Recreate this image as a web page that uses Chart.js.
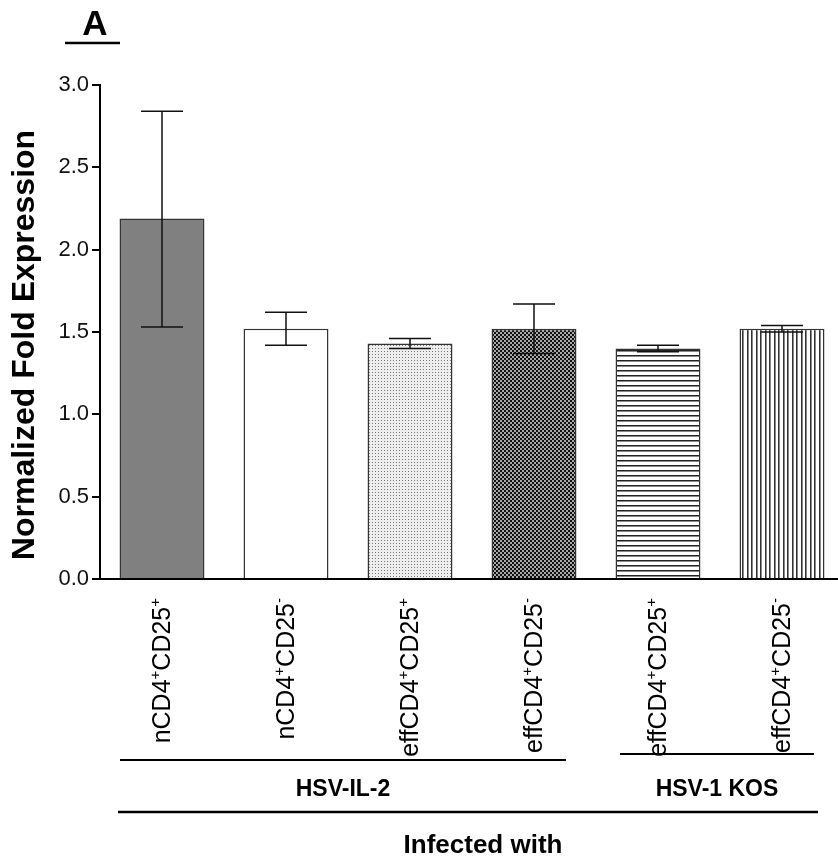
<!DOCTYPE html>
<html>
<head>
<meta charset="utf-8">
<script src="https://cdn.jsdelivr.net/npm/chart.js@4.4.1/dist/chart.umd.min.js"></script>
<style>
  html, body { margin: 0; padding: 0; background: #fff; overflow: hidden; }
  #wrap { width: 844px; height: 862px; }
</style>
</head>
<body>
<div id="wrap"><canvas id="foldChart"></canvas></div>
<script>
// values
const cellTypes = ['nCD4', 'nCD4', 'effCD4', 'effCD4', 'effCD4', 'effCD4'];
const cd4Marks = ['+', '+', '+', '+', '+', '+'];
const cd25Marks = ['+', '-', '+', '-', '+', '-'];
const foldMeans = [2.19, 1.52, 1.43, 1.52, 1.40, 1.52];
const errHigh = [2.84, 1.62, 1.46, 1.67, 1.42, 1.54];
const errLow = [1.53, 1.42, 1.40, 1.37, 1.38, 1.50];
const yTicks = [0, 0.5, 1.0, 1.5, 2.0, 2.5, 3.0];
const virusGroups = ['HSV-IL-2', 'HSV-1 KOS'];
const groupFirst = [0, 4];
const groupLast = [3, 5];
const categories = cellTypes.map((c, i) => c + cd4Marks[i] + 'CD25' + cd25Marks[i]);

const FONT = '"Liberation Sans", Arial, Helvetica, sans-serif';

// small tiles for the hatched fills
function makePattern(w, h, paint) {
    const c = document.createElement('canvas');
    c.width = w; c.height = h;
    const g = c.getContext('2d');
    paint(g);
    return g.createPattern(c, 'repeat');
}

const stipple = makePattern(3, 3, g => {
    g.fillStyle = '#eeeeee'; g.fillRect(0, 0, 3, 3);
    g.fillStyle = '#777777'; g.fillRect(0, 0, 1, 1);
});
const checker = makePattern(4, 4, g => {
    g.fillStyle = '#111111'; g.fillRect(0, 0, 4, 4);
    g.fillStyle = '#a8a8a8'; g.fillRect(0, 0, 2, 2); g.fillRect(2, 2, 2, 2);
});
const hLines = makePattern(1, 5, g => {
    g.fillStyle = '#ffffff'; g.fillRect(0, 0, 1, 5);
    g.fillStyle = '#222222'; g.fillRect(0, 0, 1, 1);
    g.fillStyle = '#8a8a8a'; g.fillRect(0, 1, 1, 1);
});
const vLines = makePattern(9, 1, g => {
    g.fillStyle = '#ffffff'; g.fillRect(0, 0, 9, 1);
    g.fillStyle = '#333333'; g.fillRect(0, 0, 1, 1); g.fillRect(4, 0, 1, 1);
    g.fillStyle = '#888888'; g.fillRect(1, 0, 1, 1); g.fillRect(5, 0, 1, 1);
});
const barFills = ['#808080', '#ffffff', stipple, checker, hLines, vLines];

// error bars (mean with range)
const errorBars = {
    id: 'errorBars',
    afterDatasetsDraw(chart) {
        const { ctx, scales: { y } } = chart;
        const bars = chart.getDatasetMeta(0).data;
        ctx.save();
        ctx.strokeStyle = '#111';
        ctx.lineWidth = 1.5;
        bars.forEach((bar, i) => {
            const top = y.getPixelForValue(errHigh[i]);
            const bot = y.getPixelForValue(errLow[i]);
            ctx.beginPath();
            ctx.moveTo(bar.x, top); ctx.lineTo(bar.x, bot);
            ctx.moveTo(bar.x - 21, top); ctx.lineTo(bar.x + 21, top);
            ctx.moveTo(bar.x - 21, bot); ctx.lineTo(bar.x + 21, bot);
            ctx.stroke();
        });
        ctx.restore();
    }
};

// rotated labels with superscripts, grouping lines, titles
const annotations = {
    id: 'annotations',
    afterDraw(chart) {
        const { ctx, scales: { x } } = chart;
        ctx.save();
        ctx.fillStyle = '#000';
        ctx.strokeStyle = '#000';

        // panel letter
        ctx.font = 'bold 35px ' + FONT;
        ctx.textAlign = 'center';
        ctx.textBaseline = 'alphabetic';
        ctx.fillText('A', 95, 35);
        ctx.lineWidth = 2.5;
        ctx.beginPath(); ctx.moveTo(65, 43); ctx.lineTo(120, 43); ctx.stroke();

        // y title
        ctx.save();
        ctx.translate(34, 345);
        ctx.rotate(-Math.PI / 2);
        ctx.font = 'bold 32px ' + FONT;
        ctx.textAlign = 'center';
        ctx.fillText('Normalized Fold Expression', 0, 0);
        ctx.restore();

        // category labels
        const big = '25px ' + FONT, small = '15px ' + FONT;
        categories.forEach((_, i) => {
            const parts = [[cellTypes[i], big, 0], [cd4Marks[i], small, -10], ['CD25', big, 0], [cd25Marks[i], small, -10]];
            let total = 0;
            parts.forEach(p => { ctx.font = p[1]; total += ctx.measureText(p[0]).width; });
            ctx.save();
            ctx.translate(x.getPixelForValue(i) + 8, 598);
            ctx.rotate(-Math.PI / 2);
            ctx.textAlign = 'left';
            let pos = -total;
            parts.forEach(p => {
                ctx.font = p[1];
                ctx.fillText(p[0], pos, p[2]);
                pos += ctx.measureText(p[0]).width;
            });
            ctx.restore();
        });

        // virus group brackets
        const lineY = [760, 754];
        ctx.lineWidth = 2;
        ctx.font = 'bold 23px ' + FONT;
        ctx.textAlign = 'center';
        virusGroups.forEach((name, g) => {
            const x0 = x.getPixelForValue(groupFirst[g]) - (g === 0 ? 42 : 38);
            const x1 = x.getPixelForValue(groupLast[g]) + 32;
            ctx.beginPath(); ctx.moveTo(x0, lineY[g]); ctx.lineTo(x1, lineY[g]); ctx.stroke();
            ctx.fillText(name, (x0 + x1) / 2, 796);
        });

        const allLeft = x.getPixelForValue(0) - 44;
        const allRight = x.getPixelForValue(categories.length - 1) + 36;
        ctx.lineWidth = 2.5;
        ctx.beginPath(); ctx.moveTo(allLeft, 812); ctx.lineTo(allRight, 812); ctx.stroke();
        ctx.font = 'bold 26px ' + FONT;
        ctx.fillText('Infected with', 483, 853);
        ctx.restore();
    }
};

const ctx = document.getElementById('foldChart').getContext('2d');
new Chart(ctx, {
    type: 'bar',
    data: {
        labels: categories,
        datasets: [{
            data: foldMeans,
            backgroundColor: barFills,
            borderColor: '#333',
            borderWidth: 1.5,
            barPercentage: 0.685,
            categoryPercentage: 1
        }]
    },
    options: {
        responsive: true,
        maintainAspectRatio: false,
        animation: false,
        layout: { padding: { top: 85, left: 0, right: 0, bottom: 0 } },
        plugins: { legend: { display: false }, tooltip: { enabled: false } },
        scales: {
            x: {
                grid: { display: false },
                ticks: { display: false },
                border: { display: true, color: '#000', width: 2 },
                afterFit: s => { s.height = 283; }
            },
            y: {
                min: 0,
                max: 3,
                afterBuildTicks: s => { s.ticks = yTicks.map(v => ({ value: v })); },
                ticks: {
                    font: { family: FONT, size: 22 },
                    color: '#111',
                    padding: 3,
                    callback: v => Number(v).toFixed(1)
                },
                grid: { display: true, drawOnChartArea: false, drawTicks: true, tickLength: 8, color: '#000', lineWidth: 2 },
                border: { display: true, color: '#000', width: 2 },
                afterFit: s => { s.width = 100; }
            }
        }
    },
    plugins: [errorBars, annotations]
});
</script>
</body>
</html>
